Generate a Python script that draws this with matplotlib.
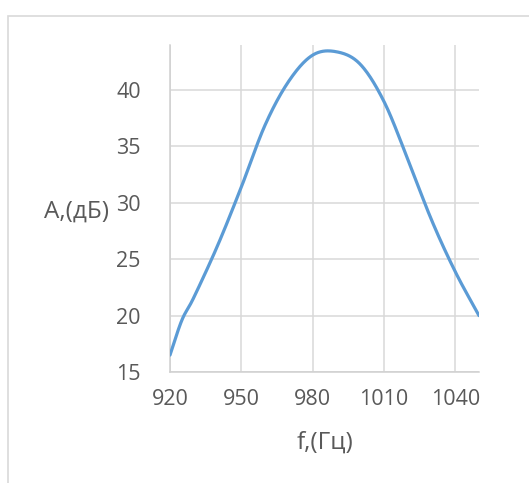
import numpy as np
import matplotlib
matplotlib.use("Agg")
import matplotlib.pyplot as plt
from matplotlib.patches import Rectangle

# Measured response: frequency (Hz) and amplitude (dB)
freq = [920, 925, 930, 940, 950, 960, 970, 980, 990, 1000, 1010, 1020, 1030, 1040, 1050]
amp = [16.5, 19.6, 21.6, 26.2, 31.4, 36.9, 40.8, 43.1, 43.4, 42.3, 39.0, 33.9, 28.5, 23.9, 20.0]

x_ticks = [920, 950, 980, 1010, 1040]
y_ticks = [15, 20, 25, 30, 35, 40]
x_label = "f,(Гц)"
y_label = "A,(дБ)"


def smooth(xs, ys, n=30):
    """Catmull-Rom spline through the points, like a spreadsheet smoothed line."""
    xs = np.asarray(xs, float)
    ys = np.asarray(ys, float)
    px = np.concatenate([[2 * xs[0] - xs[1]], xs, [2 * xs[-1] - xs[-2]]])
    py = np.concatenate([[2 * ys[0] - ys[1]], ys, [2 * ys[-1] - ys[-2]]])
    ox, oy = [], []
    t = np.linspace(0, 1, n, endpoint=False)
    for i in range(1, len(px) - 2):
        for arr, out in ((px, ox), (py, oy)):
            p0, p1, p2, p3 = arr[i - 1], arr[i], arr[i + 1], arr[i + 2]
            out.extend(0.5 * ((2 * p1) + (-p0 + p2) * t
                              + (2 * p0 - 5 * p1 + 4 * p2 - p3) * t ** 2
                              + (-p0 + 3 * p1 - 3 * p2 + p3) * t ** 3))
    ox.append(xs[-1])
    oy.append(ys[-1])
    return np.array(ox), np.array(oy)


W, H = 529, 483
fig = plt.figure(figsize=(W / 100, H / 100), dpi=100)
fig.patch.set_facecolor("white")

# chart frame
fig.patches.append(Rectangle((8 / W, -0.2), 1.2, 1.2 - 16 / H,
                             transform=fig.transFigure, fill=False,
                             edgecolor="#d9d9d9", linewidth=1.2))

left, right, top, bottom = 170, 479, 45, 372
ax = fig.add_axes([left / W, 1 - bottom / H, (right - left) / W, (bottom - top) / H])

sx, sy = smooth(freq, amp)
ax.plot(sx, sy, color="#5b9bd5", linewidth=2.3, solid_capstyle="round", zorder=3)

ax.set_xlim(920, 1050)
ax.set_ylim(15, 44)
ax.set_xticks(x_ticks)
ax.set_yticks(y_ticks)
ax.grid(True, color="#d9d9d9", linewidth=1.1)
ax.set_axisbelow(True)
for s in ("top", "right"):
    ax.spines[s].set_visible(False)
for s in ("left", "bottom"):
    ax.spines[s].set_color("#d0d0d0")
    ax.spines[s].set_linewidth(1.1)
ax.tick_params(length=0, labelsize=15.5, labelcolor="#595959")
ax.tick_params(axis="x", pad=12)
ax.tick_params(axis="y", pad=21)
for lbl in ax.get_xticklabels() + ax.get_yticklabels():
    lbl.set_fontfamily("Open Sans")

fig.text(77 / W, 1 - 212 / H, y_label, ha="center", va="center",
         fontsize=17.5, color="#595959", family="Open Sans")
fig.text(325 / W, 1 - 443 / H, x_label, ha="center", va="center",
         fontsize=17.5, color="#595959", family="Open Sans")

fig.savefig("out.png", dpi=100, facecolor="white")
